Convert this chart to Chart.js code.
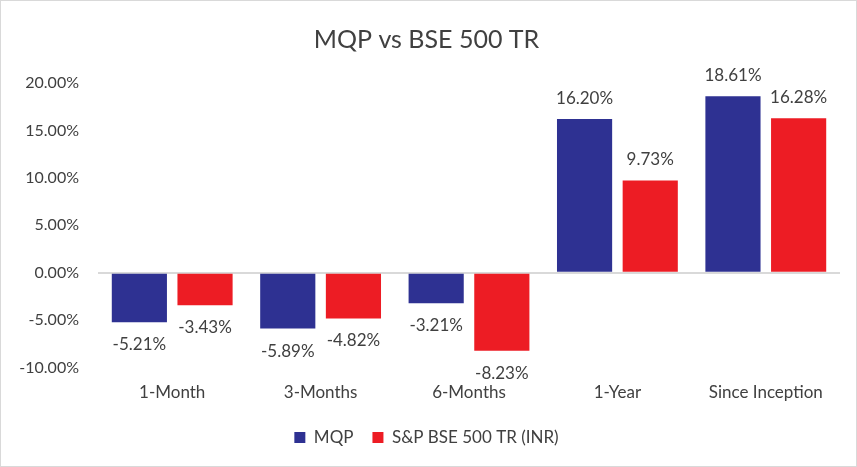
<!DOCTYPE html>
<html lang="en">
<head>
  <meta charset="UTF-8">
  <title>MQP vs BSE 500 TR</title>
  <script src="https://cdn.jsdelivr.net/npm/chart.js"></script>
  <style>
    html, body {
      margin: 0;
      padding: 0;
      background: #fff;
    }
    #chart-container {
      width: 855px;
      height: 465px;
      border: 1px solid #d9d9d9;
    }
  </style>
</head>
<body>
  <div id="chart-container">
    <canvas id="perfChart"></canvas>
  </div>

  <script>
    const categories = ['1-Month', '3-Months', '6-Months', '1-Year', 'Since Inception'];
    const mqpValues = [-5.21, -5.89, -3.21, 16.20, 18.61];
    const bseValues = [-3.43, -4.82, -8.23, 9.73, 16.28];
    const seriesNames = ['MQP', 'S&P BSE 500 TR (INR)'];

    const textColor = '#404040';
    const fontFamily = "Lato, 'Open Sans', sans-serif";

    // value labels above / below each bar
    const barLabels = {
      id: 'barLabels',
      afterDatasetsDraw(chart) {
        const ctx = chart.ctx;
        ctx.save();
        ctx.font = '17px ' + fontFamily;
        ctx.fillStyle = textColor;
        ctx.textAlign = 'center';
        chart.data.datasets.forEach((ds, i) => {
          const meta = chart.getDatasetMeta(i);
          meta.data.forEach((bar, j) => {
            const v = ds.data[j];
            const txt = v.toFixed(2) + '%';
            if (v >= 0) {
              ctx.textBaseline = 'bottom';
              ctx.fillText(txt, bar.x, bar.y - 12);
            } else {
              ctx.textBaseline = 'top';
              ctx.fillText(txt, bar.x, bar.y + 14);
            }
          });
        });
        ctx.restore();
      }
    };

    const ctx = document.getElementById('perfChart').getContext('2d');
    const perfChart = new Chart(ctx, {
      type: 'bar',
      data: {
        labels: categories,
        datasets: [{
          label: seriesNames[0],
          data: mqpValues,
          backgroundColor: '#2E3192'
        }, {
          label: seriesNames[1],
          data: bseValues,
          backgroundColor: '#ED1C24'
        }]
      },
      options: {
        responsive: true,
        maintainAspectRatio: false,
        animation: false,
        categoryPercentage: 0.885,
        barPercentage: 0.84,
        layout: {
          padding: { left: 12, right: 16, top: 10, bottom: 10 }
        },
        plugins: {
          title: {
            display: true,
            text: 'MQP vs BSE 500 TR',
            color: textColor,
            font: { family: fontFamily, size: 25, weight: 'normal' },
            padding: { top: 14, bottom: 28 }
          },
          legend: {
            position: 'bottom',
            labels: {
              color: textColor,
              font: { family: fontFamily, size: 17 },
              boxWidth: 11,
              boxHeight: 11,
              padding: 19
            }
          },
          tooltip: { enabled: false }
        },
        scales: {
          x: {
            grid: { display: false },
            border: { display: false },
            ticks: {
              color: textColor,
              font: { family: fontFamily, size: 17 },
              padding: 7
            }
          },
          y: {
            min: -10,
            max: 20,
            border: { display: false },
            afterFit: (scale) => { scale.width = 85; },
            grid: {
              color: (c) => c.tick && c.tick.value === 0 ? '#d9d9d9' : 'rgba(0,0,0,0)',
              lineWidth: 2,
              drawTicks: false
            },
            ticks: {
              stepSize: 5,
              color: textColor,
              font: { family: fontFamily, size: 16 },
              padding: 19,
              callback: (v) => v.toFixed(2) + '%'
            }
          }
        }
      },
      plugins: [barLabels]
    });
  </script>
</body>
</html>
